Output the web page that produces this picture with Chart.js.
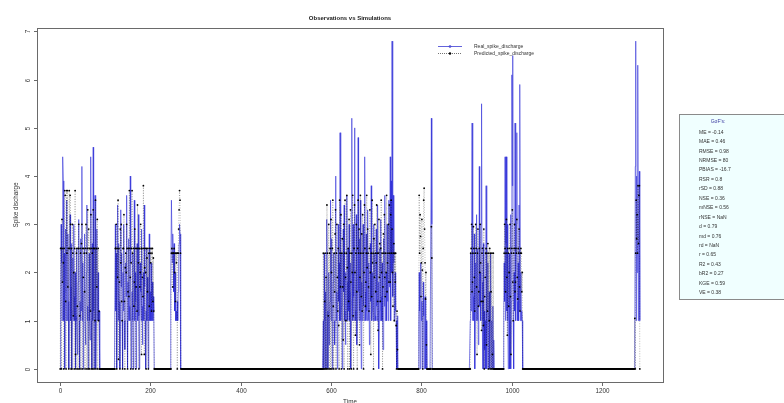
<!DOCTYPE html>
<html>
<head>
<meta charset="utf-8">
<script src="https://cdn.jsdelivr.net/npm/chart.js@4.4.1/dist/chart.umd.min.js"></script>
<style>
html, body { margin: 0; padding: 0; background: #fff; overflow: hidden; }
</style>
</head>
<body>
<canvas id="ourChart" width="784" height="403"></canvas>
<script>
// values, one per time step (20 per line, t = 1..1283)
const observed = [
0,1.3,3.0,2.2,1.0,2.6,4.4,3.9,1.0,2.4,0,1.6,2.9,1.0,3.5,2.1,1.0,2.8,1.4,0,
1.0,2.0,3.2,1.0,1.7,2.6,0,1.2,2.3,1.0,3.0,1.5,1.0,2.0,0,1.1,2.5,1.0,0.3,1.0,
1.8,3.1,1.0,0,1.4,1.0,2.7,1.2,4.2,1.0,2.2,0,1.0,1.6,2.8,1.0,0.5,1.0,2.0,3.4,
1.0,1.3,0,1.0,2.4,1.0,0.6,1.9,4.4,1.0,0,2.6,1.0,4.6,1.2,0,1.0,3.6,1.5,0,
1.0,2.9,1.0,1.4,2.0,1.0,1.2,0,0,0,0,0,0,0,0,0,0,0,0,0,
0,0,0,0,0,0,0,0,0,0,0,0,0,0,0,0,0,0,0,0,
0,0,3.0,1.2,2.4,0,1.0,3.4,2.0,1.0,2.6,1.4,0,1.0,3.3,1.7,2.4,1.0,0,2.0,
1.2,3.0,1.0,0.4,1.0,2.2,1.5,3.6,1.0,0,1.8,1.0,2.7,1.3,1.0,4.0,2.2,0,1.0,1.6,
2.4,1.0,0,1.2,3.5,1.0,2.0,1.4,0,1.0,2.6,1.8,1.0,3.2,1.1,0,1.0,2.2,1.6,1.0,
2.9,1.3,0.5,1.0,2.0,1.0,3.4,1.7,1.0,0,1.2,2.5,1.0,1.9,1.0,0,1.4,2.8,1.0,1.6,
1.0,2.2,1.3,1.0,1.8,1.0,1.5,1.2,0,0,0,0,0,0,0,0,0,0,0,0,
0,0,0,0,0,0,0,0,0,0,0,0,0,0,0,0,0,0,0,0,
0,0,0,0,0,1.7,3.5,3.5,2.2,2.8,2.4,1.6,2.6,1.2,2.0,1.3,1.0,1.2,1.0,1.4,
1.0,1.6,2.2,2.6,3.0,2.8,1.0,0,0,0,0,0,0,0,0,0,0,0,0,0,
0,0,0,0,0,0,0,0,0,0,0,0,0,0,0,0,0,0,0,0,
0,0,0,0,0,0,0,0,0,0,0,0,0,0,0,0,0,0,0,0,
0,0,0,0,0,0,0,0,0,0,0,0,0,0,0,0,0,0,0,0,
0,0,0,0,0,0,0,0,0,0,0,0,0,0,0,0,0,0,0,0,
0,0,0,0,0,0,0,0,0,0,0,0,0,0,0,0,0,0,0,0,
0,0,0,0,0,0,0,0,0,0,0,0,0,0,0,0,0,0,0,0,
0,0,0,0,0,0,0,0,0,0,0,0,0,0,0,0,0,0,0,0,
0,0,0,0,0,0,0,0,0,0,0,0,0,0,0,0,0,0,0,0,
0,0,0,0,0,0,0,0,0,0,0,0,0,0,0,0,0,0,0,0,
0,0,0,0,0,0,0,0,0,0,0,0,0,0,0,0,0,0,0,0,
0,0,0,0,0,0,0,0,0,0,0,0,0,0,0,0,0,0,0,0,
0,0,0,0,0,0,0,0,0,0,0,0,0,0,0,0,0,0,0,0,
0,0,0,0,0,0,0,0,0,0,0,0,0,0,0,0,0,0,0,0,
0,0,0,0,0,0,0,0,0,0,0,0,0,0,0,0,0,0,0,0,
0,0,0,0,0,0,0,0,0,0,0,0,0,0,0,0,0,0,0,0,
0,0,1.0,0,2.4,1.0,0,1.6,0,1.0,3.1,1.2,0,1.0,2.0,0.5,1.0,1.4,3.5,1.0,
1.2,2.7,0,1.0,1.8,2.4,1.0,0.5,1.0,4.0,2.8,1.0,1.6,0,1.0,3.0,1.4,2.2,1.0,4.9,
3.2,1.0,1.3,2.4,0,1.0,2.9,1.6,3.4,1.0,1.2,0.5,2.0,1.0,3.6,1.8,1.0,2.5,1.2,3.0,
1.0,1.6,2.2,0,1.4,5.2,2.0,1.0,3.0,1.5,1.0,5.0,2.4,1.2,1.0,3.2,0.5,1.0,2.2,4.8,
1.6,1.0,2.7,1.2,3.5,1.0,0,1.8,1.0,2.4,3.0,1.3,1.0,2.0,4.4,1.6,1.0,2.8,1.2,1.0,
3.3,1.5,1.0,2.2,0.5,1.0,2.6,1.4,3.8,1.0,1.2,2.0,1.0,3.0,1.6,1.0,2.4,1.1,1.0,2.9,
1.3,1.0,3.4,1.8,1.0,0,1.2,2.5,1.0,3.1,1.5,1.0,2.2,1.0,0.4,1.0,2.7,1.3,3.6,1.0,
1.2,2.0,1.0,3.0,1.4,2.4,1.0,3.5,1.7,2.2,4.4,1.0,3.9,2.0,6.8,4.4,1.5,3.6,2.2,1.0,
1.0,2.0,1.2,1.0,0,1.0,1.1,0,0,0,0,0,0,0,0,0,0,0,0,0,
0,0,0,0,0,0,0,0,0,0,0,0,0,0,0,0,0,0,0,0,
0,0,0,0,0,0,0,0,0,0,0,0,0,1.0,2.0,1.2,0,1.6,2.2,1.0,
1.4,0,1.0,1.8,1.1,0,1.0,1.5,1.0,0,1.0,0,0,0,0,0,0,0,0,0,
0,5.2,3.0,0,0,0,0,0,0,0,0,0,0,0,0,0,0,0,0,0,
0,0,0,0,0,0,0,0,0,0,0,0,0,0,0,0,0,0,0,0,
0,0,0,0,0,0,0,0,0,0,0,0,0,0,0,0,0,0,0,0,
0,0,0,0,0,0,0,0,0,0,0,0,0,0,0,0,0,0,0,0,
0,0,0,0,0,0,0,1.0,2.4,1.2,3.0,5.1,1.0,2.0,1.5,1.0,2.8,0,1.4,2.2,
1.0,3.2,1.6,1.0,2.5,0.5,1.0,4.2,1.3,2.0,1.0,3.0,5.5,1.8,0,1.0,2.6,0,1.2,0.4,
1.0,0,3.8,1.5,0,1.0,2.2,0,0.8,1.6,0,1.0,2.4,0,0.5,1.0,0,1.3,0,0.6,
0,0,0,0,0,0,0,0,0,0,0,0,0,0,0,0,0,0,0,0,
0,1.0,2.2,1.4,4.4,1.0,2.6,4.4,1.2,3.0,1.0,0,1.8,2.4,0,1.0,3.2,0,1.4,6.1,
3.8,6.5,1.0,0,2.0,1.2,5.1,1.6,1.0,3.0,4.9,1.4,1.0,2.2,1.0,3.4,1.2,5.9,1.0,2.0,
1.0,1.2,1.0,0,0,0,0,0,0,0,0,0,0,0,0,0,0,0,0,0,
0,0,0,0,0,0,0,0,0,0,0,0,0,0,0,0,0,0,0,0,
0,0,0,0,0,0,0,0,0,0,0,0,0,0,0,0,0,0,0,0,
0,0,0,0,0,0,0,0,0,0,0,0,0,0,0,0,0,0,0,0,
0,0,0,0,0,0,0,0,0,0,0,0,0,0,0,0,0,0,0,0,
0,0,0,0,0,0,0,0,0,0,0,0,0,0,0,0,0,0,0,0,
0,0,0,0,0,0,0,0,0,0,0,0,0,0,0,0,0,0,0,0,
0,0,0,0,0,0,0,0,0,0,0,0,0,0,0,0,0,0,0,0,
0,0,0,0,0,0,0,0,0,0,0,0,0,0,0,0,0,0,0,0,
0,0,0,0,0,0,0,0,0,0,0,0,0,0,0,0,0,0,0,0,
0,0,0,0,0,0,0,0,0,0,0,0,0,0,0,0,0,0,0,0,
0,0,0,0,0,0,0,0,0,0,0,0,0,0,0,0,0,0,0,0,
0,0,0,0,0,0,0,0,0,0,0,1.0,4.2,6.8,1.0,4.0,2.0,3.4,6.3,1.0,
2.6,4.1,1.0
];

const predicted = [
0,2.5,2.5,0,3.1,1.8,2.5,2.2,0,2.5,3.7,3.6,1.4,0,3.7,2.4,3.7,1.7,2.5,0,
3.7,2.5,3.6,3.0,0,2.5,0,3.0,2.4,1.1,2.0,0,2.5,3.7,0.3,0,2.4,2.5,1.3,0,
2.5,3.0,0,1.1,2.5,2.4,0,2.6,3.0,2.5,0,1.9,2.5,2.4,1.6,0,2.5,3.0,2.4,0,
2.5,3.3,0,2.9,2.5,0,2.5,1.2,3.2,0,2.5,2.4,0,3.3,2.5,0,2.5,1.0,3.5,0,
2.5,1.7,3.1,0,2.5,1.0,1.2,0,0,0,0,0,0,0,0,0,0,0,0,0,
0,0,0,0,0,0,0,0,0,0,0,0,0,0,0,0,0,0,0,0,
0,0,2.5,2.5,3.0,0,2.5,1.9,3.5,0.2,2.5,1.8,0,2.9,2.2,3.0,1.4,1.0,0,2.5,
2.5,3.2,1.4,0,2.1,2.4,2.0,3.0,2.5,0,1.6,2.5,1.5,3.7,2.5,1.9,0,2.2,2.5,3.7,
2.4,0,2.5,1.3,1.8,2.9,2.5,0,1.7,2.5,1.2,3.4,2.5,2.2,0,2.5,1.7,2.0,3.0,2.5,
0.3,2.5,1.9,1.5,3.8,2.5,0.3,2.1,2.5,2.0,0,2.5,2.3,1.6,2.5,0,2.4,1.3,2.5,2.4,
2.2,2.5,1.2,2.4,2.5,1.4,2.3,1.2,0,0,0,0,0,0,0,0,0,0,0,0,
0,0,0,0,0,0,0,0,0,0,0,0,0,0,0,0,0,0,0,0,
0,0,0,0,0,0,2.4,2.5,2.4,1.7,2.4,2.4,2.5,2.0,2.4,1.4,2.4,2.2,2.4,0,
2.4,2.4,2.9,3.3,3.7,3.5,2.4,0,0,0,0,0,0,0,0,0,0,0,0,0,
0,0,0,0,0,0,0,0,0,0,0,0,0,0,0,0,0,0,0,0,
0,0,0,0,0,0,0,0,0,0,0,0,0,0,0,0,0,0,0,0,
0,0,0,0,0,0,0,0,0,0,0,0,0,0,0,0,0,0,0,0,
0,0,0,0,0,0,0,0,0,0,0,0,0,0,0,0,0,0,0,0,
0,0,0,0,0,0,0,0,0,0,0,0,0,0,0,0,0,0,0,0,
0,0,0,0,0,0,0,0,0,0,0,0,0,0,0,0,0,0,0,0,
0,0,0,0,0,0,0,0,0,0,0,0,0,0,0,0,0,0,0,0,
0,0,0,0,0,0,0,0,0,0,0,0,0,0,0,0,0,0,0,0,
0,0,0,0,0,0,0,0,0,0,0,0,0,0,0,0,0,0,0,0,
0,0,0,0,0,0,0,0,0,0,0,0,0,0,0,0,0,0,0,0,
0,0,0,0,0,0,0,0,0,0,0,0,0,0,0,0,0,0,0,0,
0,0,0,0,0,0,0,0,0,0,0,0,0,0,0,0,0,0,0,0,
0,0,0,0,0,0,0,0,0,0,0,0,0,0,0,0,0,0,0,0,
0,0,0,0,0,0,0,0,0,0,0,0,0,0,0,0,0,0,0,0,
0,0,0,0,0,0,0,0,0,0,0,0,0,0,0,0,0,0,0,0,
0,0,2.4,0,0,1.4,2.4,0,1.9,0,3.4,2.4,0,1.1,3.0,0,2.4,2.5,0,3.1,
2.0,0,2.5,3.5,1.3,0,2.4,1.6,2.8,3.3,0,2.4,3.0,1.9,1.2,2.5,0.9,0,3.5,2.4,
1.7,3.2,0,2.4,2.7,1.7,0.6,3.0,0,2.4,3.5,1.9,1.0,2.4,3.6,2.1,0,2.5,1.4,3.1,
0,2.4,3.3,1.8,0,2.4,2.0,3.6,1.1,0,2.5,3.4,2.0,0.7,2.4,3.0,1.6,0,2.5,3.5,
2.4,2.9,0.5,1.9,3.6,2.4,1.5,2.8,1.2,3.2,2.4,0,2.0,3.4,2.5,1.3,1.8,2.4,3.6,2.1,
2.9,2.4,1.7,1.2,2.5,3.3,2.0,0.3,2.4,1.5,3.5,2.2,2.4,0,2.7,1.9,3.0,2.4,1.6,2.2,
3.4,2.4,1.4,0.8,2.4,3.1,1.9,2.6,1.4,2.5,3.5,2.0,2.4,0,1.7,2.8,2.4,3.2,1.9,1.5,
2.4,2.0,3.6,1.6,2.2,2.4,3.0,1.8,3.4,2.4,1.8,3.2,3.5,2.4,2.9,2.0,1.3,2.4,2.6,1.0,
2.4,1.8,2.4,0.9,0,1.2,0.4,0,0,0,0,0,0,0,0,0,0,0,0,0,
0,0,0,0,0,0,0,0,0,0,0,0,0,0,0,0,0,0,0,0,
0,0,0,0,0,0,0,0,0,0,0,0,0,0,3.6,2.4,3.2,2.75,1.5,2.2,
3.1,2.05,0,2.5,3.5,3.75,2.9,2.2,1.45,2.0,0.5,0,0,0,0,0,0,0,0,0,
0,2.95,2.3,0,0,0,0,0,0,0,0,0,0,0,0,0,0,0,0,0,
0,0,0,0,0,0,0,0,0,0,0,0,0,0,0,0,0,0,0,0,
0,0,0,0,0,0,0,0,0,0,0,0,0,0,0,0,0,0,0,0,
0,0,0,0,0,0,0,0,0,0,0,0,0,0,0,0,0,0,0,0,
0,0,0,0,0,0,0,0,2.4,2.5,3.0,1.6,1.8,2.4,2.95,2.5,1.9,1.2,2.4,3.0,
2.5,1.7,0.3,2.4,2.9,1.3,1.6,2.5,2.0,3.0,2.2,1.4,0.8,2.4,2.5,1.4,0.9,2.9,0,1.5,
1.9,2.4,2.5,0.5,2.4,1.2,2.6,0,2.4,1.0,2.5,0,2.4,1.6,0,2.4,0.3,0,2.4,0,
0,0,0,0,0,0,0,0,0,0,0,0,0,0,0,0,0,0,0,0,
0,0,2.4,3.0,2.5,1.6,2.4,3.1,1.9,0.7,2.5,2.4,1.3,2.0,2.5,3.0,1.5,0.3,2.4,2.5,
3.3,1.8,1.0,2.4,2.5,3.0,1.6,1.8,2.5,2.4,3.1,1.9,1.45,2.5,2.4,2.9,1.7,1.2,2.4,2.5,
2.4,1.6,2.0,0,0,0,0,0,0,0,0,0,0,0,0,0,0,0,0,0,
0,0,0,0,0,0,0,0,0,0,0,0,0,0,0,0,0,0,0,0,
0,0,0,0,0,0,0,0,0,0,0,0,0,0,0,0,0,0,0,0,
0,0,0,0,0,0,0,0,0,0,0,0,0,0,0,0,0,0,0,0,
0,0,0,0,0,0,0,0,0,0,0,0,0,0,0,0,0,0,0,0,
0,0,0,0,0,0,0,0,0,0,0,0,0,0,0,0,0,0,0,0,
0,0,0,0,0,0,0,0,0,0,0,0,0,0,0,0,0,0,0,0,
0,0,0,0,0,0,0,0,0,0,0,0,0,0,0,0,0,0,0,0,
0,0,0,0,0,0,0,0,0,0,0,0,0,0,0,0,0,0,0,0,
0,0,0,0,0,0,0,0,0,0,0,0,0,0,0,0,0,0,0,0,
0,0,0,0,0,0,0,0,0,0,0,0,0,0,0,0,0,0,0,0,
0,0,0,0,0,0,0,0,0,0,0,0,0,0,0,0,0,0,0,0,
0,0,0,0,0,0,0,0,0,0,0,1.05,0,2.4,3.5,2.7,3.2,2.4,3.8,2.6,
3.6,3.8,0
];

const xTicks = [0, 200, 400, 600, 800, 1000, 1200];
const yTicks = [0, 1, 2, 3, 4, 5, 6, 7];
const seriesNames = ['Real_spike_discharge', 'Predicted_spike_discharge'];
const gofLines = [
    'ME = -0.14', 'MAE = 0.46', 'RMSE = 0.98', 'NRMSE = 80', 'PBIAS = -16.7',
    'RSR = 0.8', 'rSD = 0.88', 'NSE = 0.36', 'mNSE = 0.56', 'rNSE = NaN',
    'd = 0.79', 'md = 0.76', 'rd = NaN', 'r = 0.65', 'R2 = 0.43',
    'bR2 = 0.27', 'KGE = 0.59', 'VE = 0.38'
];

const FONT = '"Liberation Sans", Arial, sans-serif';

// R style axes, labels, legend and GoF box
const decor = {
    id: 'decor',
    afterDraw(chart) {
        const ctx = chart.ctx;
        const a = chart.chartArea;
        const xs = chart.scales.x, ys = chart.scales.y;
        ctx.save();

        ctx.strokeStyle = '#6a6a6a';
        ctx.lineWidth = 1;
        ctx.strokeRect(a.left + 0.5, a.top + 0.5, a.right - a.left, a.bottom - a.top);

        ctx.fillStyle = '#333';
        ctx.font = '6.3px ' + FONT;
        ctx.textAlign = 'center';
        ctx.textBaseline = 'middle';
        ctx.beginPath();
        xTicks.forEach(v => {
            const px = Math.round(xs.getPixelForValue(v)) + 0.5;
            ctx.moveTo(px, a.bottom + 1);
            ctx.lineTo(px, a.bottom + 4);
            ctx.fillText(String(v), px, 391);
        });
        yTicks.forEach(v => {
            const py = Math.round(ys.getPixelForValue(v)) + 0.5;
            ctx.moveTo(a.left, py);
            ctx.lineTo(a.left - 3, py);
            ctx.save();
            ctx.translate(28, py);
            ctx.rotate(-Math.PI / 2);
            ctx.fillText(String(v), 0, 0);
            ctx.restore();
        });
        ctx.stroke();

        // axis titles
        ctx.textBaseline = 'top';
        ctx.fillText('Time', (a.left + a.right) / 2, 399);
        ctx.save();
        ctx.translate(16, (a.top + a.bottom) / 2);
        ctx.rotate(-Math.PI / 2);
        ctx.textBaseline = 'middle';
        ctx.fillText('Spike discharge', 0, 0);
        ctx.restore();

        // main title
        ctx.font = 'bold 6px ' + FONT;
        ctx.fillStyle = '#222';
        ctx.textBaseline = 'middle';
        ctx.fillText('Observations vs Simulations', (a.left + a.right) / 2, 18);

        // legend
        ctx.font = '5px ' + FONT;
        ctx.textAlign = 'left';
        ctx.fillStyle = '#333';
        ctx.strokeStyle = 'rgba(60,60,210,0.8)';
        ctx.beginPath();
        ctx.moveTo(438, 46.5); ctx.lineTo(462, 46.5);
        ctx.stroke();
        ctx.beginPath();
        ctx.arc(450, 46.5, 1, 0, Math.PI * 2);
        ctx.stroke();
        ctx.strokeStyle = 'rgba(0,0,0,0.55)';
        ctx.setLineDash([1, 1]);
        ctx.beginPath();
        ctx.moveTo(438, 53.5); ctx.lineTo(462, 53.5);
        ctx.stroke();
        ctx.setLineDash([]);
        ctx.fillStyle = '#000';
        ctx.beginPath();
        ctx.arc(450, 53.5, 1.2, 0, Math.PI * 2);
        ctx.fill();
        ctx.fillStyle = '#333';
        ctx.fillText(seriesNames[0], 474, 46.5);
        ctx.fillText(seriesNames[1], 474, 53.5);

        // GoF box
        ctx.fillStyle = '#f0ffff';
        ctx.fillRect(679, 114, 120, 186);
        ctx.strokeStyle = '#8a8a8a';
        ctx.strokeRect(679.5, 114.5, 120, 185);
        ctx.textAlign = 'center';
        ctx.fillStyle = '#3a3aa0';
        ctx.fillText("GoF's:", 718, 121.7);
        ctx.textAlign = 'left';
        ctx.fillStyle = '#333';
        gofLines.forEach((s, i) => ctx.fillText(s, 699, 132.3 + i * 9.44));

        ctx.restore();
    }
};

const obsPoints = observed.map((v, i) => ({ x: i + 1, y: v }));
const simPoints = predicted.map((v, i) => ({ x: i + 1, y: v }));

const chartElement = new Chart(document.getElementById('ourChart'), {
    type: 'line',
    data: {
        datasets: [
            {
                label: seriesNames[0],
                data: obsPoints,
                borderColor: 'rgba(45,45,215,0.65)',
                borderWidth: 0.9,
                pointRadius: 0,
                order: 1
            },
            {
                label: seriesNames[1],
                data: simPoints,
                borderColor: 'rgba(0,0,0,0.35)',
                borderWidth: 0.8,
                borderDash: [1, 1.5],
                pointRadius: 0.9,
                pointBorderWidth: 0,
                pointBackgroundColor: '#000',
                order: 0
            }
        ]
    },
    options: {
        responsive: false,
        animation: false,
        events: [],
        parsing: false,
        layout: { padding: { left: 37, top: 28, right: 121, bottom: 21 } },
        scales: {
            x: { type: 'linear', display: false, min: -50.3, max: 1334.3 },
            y: { type: 'linear', display: false, min: -0.272, max: 7.072 }
        },
        plugins: {
            legend: { display: false },
            tooltip: { enabled: false }
        }
    },
    plugins: [decor]
});
</script>
</body>
</html>
